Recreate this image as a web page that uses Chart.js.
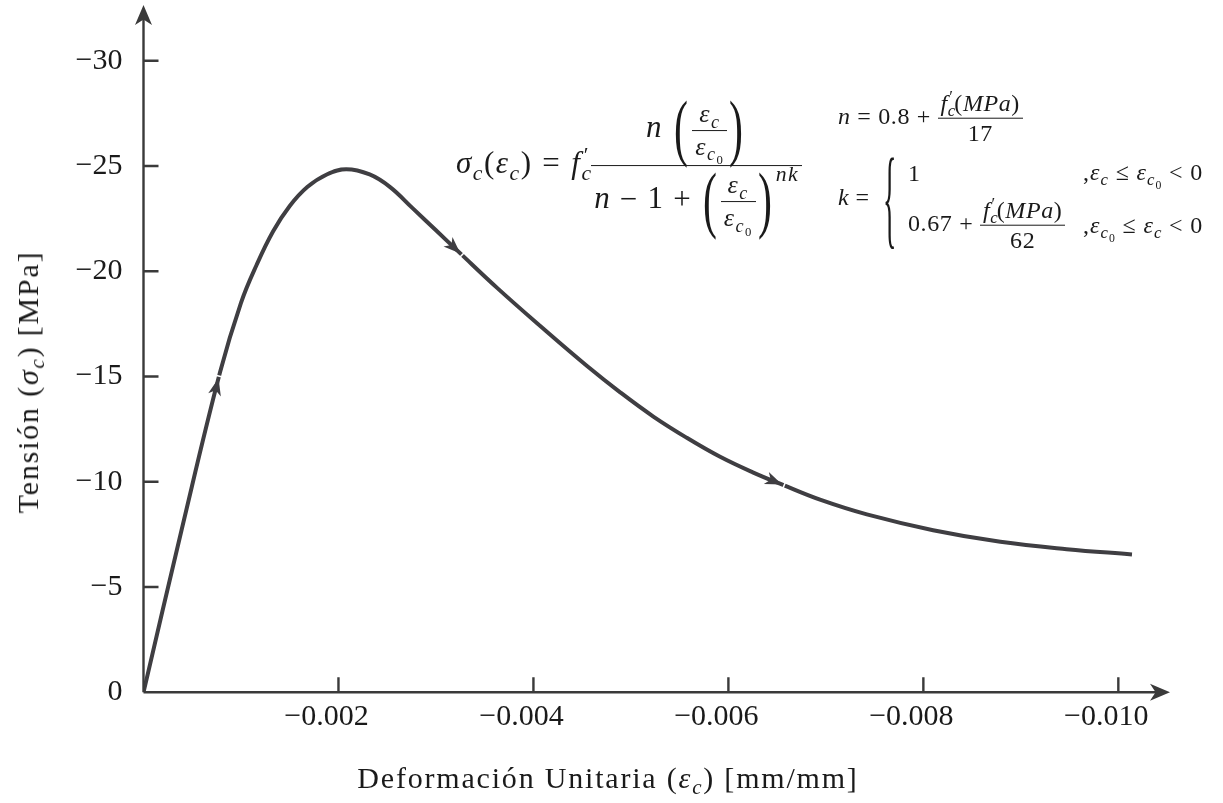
<!DOCTYPE html>
<html>
<head>
<meta charset="utf-8">
<script src="https://cdn.jsdelivr.net/npm/chart.js@4.4.0/dist/chart.umd.min.js"></script>
<style>
  body { margin: 0; background: #fff; }
  #wrap { position: relative; width: 1223px; height: 803px; font-family: "Liberation Serif", serif; color: #1a1a1a; }
  #chart { position: absolute; left: 0; top: 0; }
  .lbl { position: absolute; white-space: nowrap; font-size: 30px; line-height: 1; letter-spacing: 1.8px; }
  .i { font-style: italic; }
  .eq { position: absolute; white-space: nowrap; line-height: 1; transform: translateY(-50%); }
  .op { margin: 0 0.28em; }
  .fr { display: inline-flex; flex-direction: column; align-items: stretch; text-align: center; vertical-align: middle; }
  .fr > span { display: block; line-height: 1.2; padding: 0 3px; }
  .fr > span:first-child { border-bottom: 1.6px solid #1a1a1a; }
  .outer > span:first-child { padding-bottom: 3px; }
  .outer > span:last-child { padding-top: 3px; }
  .inner { font-size: 26px; }
  .inner > span { line-height: 1.22; padding: 0 3px; }
  .big { display: inline-block; transform: scale(1.35, 2.4); margin: 0 4px; }
  sub { font-size: 0.7em; vertical-align: -0.3em; line-height: 0; }
  sup { font-size: 0.7em; line-height: 0; }
  .pr { margin-left: -0.4em; margin-right: 0.05em; }
</style>
</head>
<body>
<div id="wrap">
  <canvas id="chart" width="1223" height="803"></canvas>

  <div class="lbl" style="left:28px;top:382px;transform:translate(-50%,-50%) rotate(-90deg);">Tensión (<span class="i">σ</span><sub class="i">c</sub>) [MPa]</div>
  <div class="lbl" style="left:608px;top:778px;transform:translate(-50%,-50%);">Deformación Unitaria (<span class="i">ε</span><sub class="i">c</sub>) [mm/mm]</div>

  <!-- main equation -->
  <div class="eq" style="left:456px;top:166px;font-size:31px;letter-spacing:1.5px;">
    <span class="i">σ</span><sub class="i">c</sub>(<span class="i">ε</span><sub class="i">c</sub>)<span class="op" style="margin:0 0.32em;">=</span><span class="i">f</span><sub class="i">c</sub><sup class="pr">′</sup><span class="fr outer"><span><span class="i">n</span> <span class="big">(</span><span class="fr inner"><span><span class="i">ε</span><sub class="i">c</sub></span><span><span class="i">ε</span><sub><span class="i">c</span><sub>0</sub></sub></span></span><span class="big">)</span></span><span><span class="i">n</span><span class="op">−</span>1<span class="op">+</span><span class="big">(</span><span class="fr inner"><span><span class="i">ε</span><sub class="i">c</sub></span><span><span class="i">ε</span><sub><span class="i">c</span><sub>0</sub></sub></span></span><span class="big">)</span><sup class="i" style="vertical-align:1.25em;">nk</sup></span></span>
  </div>

  <!-- n and k definitions -->
  <div class="eq" style="left:838px;top:118px;font-size:24px;letter-spacing:0.6px;">
    <span class="i">n</span><span class="op">=</span>0.8<span class="op">+</span><span class="fr"><span><span class="i">f</span><sub class="i">c</sub><sup class="pr">′</sup>(<span class="i">MPa</span>)</span><span>17</span></span>
  </div>
  <div class="eq" style="left:838px;top:197px;font-size:24px;"><span class="i">k</span><span class="op">=</span></div>
  <div class="eq" style="left:883px;top:199px;font-size:28px;transform:translateY(-50%) scaleY(3.9);">{</div>
  <div class="eq" style="left:908px;top:173px;font-size:24px;">1</div>
  <div class="eq" style="left:1083px;top:173px;font-size:24px;letter-spacing:1px;">,<span class="i">ε</span><sub class="i">c</sub><span class="op">≤</span><span class="i">ε</span><sub><span class="i">c</span><sub>0</sub></sub><span class="op">&lt;</span>0</div>
  <div class="eq" style="left:908px;top:225px;font-size:24px;letter-spacing:0.6px;">0.67<span class="op">+</span><span class="fr"><span><span class="i">f</span><sub class="i">c</sub><sup class="pr">′</sup>(<span class="i">MPa</span>)</span><span>62</span></span></div>
  <div class="eq" style="left:1083px;top:226px;font-size:24px;letter-spacing:1px;">,<span class="i">ε</span><sub><span class="i">c</span><sub>0</sub></sub><span class="op">≤</span><span class="i">ε</span><sub class="i">c</sub><span class="op">&lt;</span>0</div>
</div>

<script>
// strain (mm/mm) and stress (MPa)
const strain = [0, -0.00039, -0.000785, -0.001, -0.00116, -0.00133, -0.0015, -0.00168, -0.00188,
  -0.00208, -0.00232, -0.00253, -0.00276, -0.003, -0.00325, -0.00363, -0.00407,
  -0.00455, -0.00489, -0.00523, -0.00557, -0.00591, -0.00625, -0.00656, -0.00694, -0.00742,
  -0.0081, -0.00879, -0.00947, -0.01014];
const stress = [0, -7.7, -15.2, -18.5, -20.3, -21.9, -23.1, -24.0, -24.6,
  -24.85, -24.6, -24.0, -23.0, -21.95, -20.85, -19.2, -17.4,
  -15.5, -14.25, -13.1, -12.1, -11.2, -10.45, -9.85, -9.15, -8.45,
  -7.7, -7.15, -6.8, -6.55];
const arrowStrain = [-0.00077, -0.00325, -0.00655];
const xTicks = [-0.002, -0.004, -0.006, -0.008, -0.010];
const yTicks = [0, -5, -10, -15, -20, -25, -30];

const ink = "#3f3e42";
const axisInk = "#3a3a3a";
const tickFont = { family: "Liberation Serif", size: 30 };

function minus(s) { return s.replace("-", "\u2212"); }

function stressAt(e) {
  for (let i = 1; i < strain.length; i++) {
    if (e >= strain[i]) {
      const t = (e - strain[i - 1]) / (strain[i] - strain[i - 1]);
      return stress[i - 1] + t * (stress[i] - stress[i - 1]);
    }
  }
  return stress[stress.length - 1];
}

function stealth(ctx, x, y, ang, len, half) {
  ctx.save();
  ctx.translate(x, y);
  ctx.rotate(ang);
  ctx.beginPath();
  ctx.moveTo(0, 0);
  ctx.lineTo(-len, -half);
  ctx.lineTo(-len * 0.72, 0);
  ctx.lineTo(-len, half);
  ctx.closePath();
  ctx.fill();
  ctx.restore();
}

const axesPlugin = {
  id: "axesArrows",
  afterDatasetsDraw(chart) {
    const { ctx, chartArea, scales } = chart;
    const x0 = scales.x.getPixelForValue(0);
    const y0 = scales.y.getPixelForValue(0);
    ctx.save();
    ctx.strokeStyle = axisInk;
    ctx.fillStyle = axisInk;
    ctx.lineWidth = 2.4;
    ctx.beginPath();
    ctx.moveTo(x0, y0);
    ctx.lineTo(chartArea.right - 8, y0);
    ctx.moveTo(x0, y0);
    ctx.lineTo(x0, chartArea.top + 8);
    xTicks.forEach(v => {
      const px = scales.x.getPixelForValue(v);
      ctx.moveTo(px, y0);
      ctx.lineTo(px, y0 - 15);
    });
    yTicks.forEach(v => {
      if (v === 0) return;
      const py = scales.y.getPixelForValue(v);
      ctx.moveTo(x0, py);
      ctx.lineTo(x0 + 15, py);
    });
    ctx.stroke();
    stealth(ctx, chartArea.right, y0, 0, 20, 8.5);
    stealth(ctx, x0, chartArea.top, -Math.PI / 2, 20, 8.5);

    // direction arrows on the curve
    ctx.fillStyle = ink;
    arrowStrain.forEach(e => {
      const px = scales.x.getPixelForValue(e);
      const py = scales.y.getPixelForValue(stressAt(e));
      const ax = scales.x.getPixelForValue(e + 0.00006);
      const ay = scales.y.getPixelForValue(stressAt(e + 0.00006));
      const ang = Math.atan2(py - ay, px - ax);
      ctx.save();
      ctx.strokeStyle = "#fff";
      ctx.lineWidth = 7;
      ctx.beginPath();
      ctx.moveTo(px + Math.cos(ang) * 1.5, py + Math.sin(ang) * 1.5);
      ctx.lineTo(px + Math.cos(ang) * 3, py + Math.sin(ang) * 3);
      ctx.stroke();
      ctx.restore();
      stealth(ctx, px, py, ang, 17, 6.5);
    });
    ctx.restore();
  }
};

new Chart(document.getElementById("chart"), {
  type: "scatter",
  data: {
    datasets: [{
      data: strain.map((x, i) => ({ x, y: stress[i] })),
      showLine: true,
      borderColor: ink,
      borderWidth: 4,
      pointRadius: 0,
      tension: 0.4,
      fill: false
    }]
  },
  options: {
    responsive: false,
    animation: false,
    devicePixelRatio: 1,
    layout: { padding: { top: 5, right: 53, bottom: 0, left: 0 } },
    plugins: { legend: { display: false }, tooltip: { enabled: false } },
    scales: {
      x: {
        type: "linear",
        reverse: true,
        min: -0.01053,
        max: 0,
        afterBuildTicks: s => { s.ticks = xTicks.map(v => ({ value: v })); },
        afterFit: s => { s.height = 110.7; s.paddingLeft = 0; s.paddingRight = 0; },
        grid: { display: false, drawTicks: false },
        border: { display: false },
        ticks: {
          color: "#1a1a1a",
          font: tickFont,
          padding: 7,
          labelOffset: -12,
          maxRotation: 0,
          autoSkip: false,
          callback: v => minus(Number(v).toFixed(3))
        }
      },
      y: {
        type: "linear",
        reverse: true,
        min: -32.65,
        max: 0,
        afterBuildTicks: s => { s.ticks = yTicks.map(v => ({ value: v })); },
        afterFit: s => { s.width = 143.5; s.paddingTop = 0; s.paddingBottom = 0; },
        grid: { display: false, drawTicks: false },
        border: { display: false },
        ticks: {
          color: "#1a1a1a",
          font: tickFont,
          padding: 21,
          autoSkip: false,
          callback: v => minus(String(v))
        }
      }
    }
  },
  plugins: [axesPlugin]
});
</script>
</body>
</html>
